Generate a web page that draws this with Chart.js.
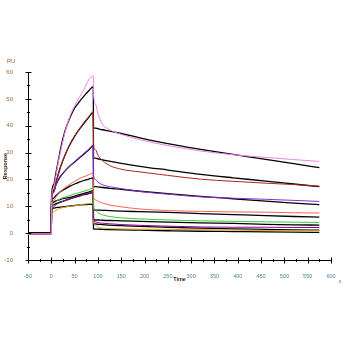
<!DOCTYPE html>
<html>
<head>
<meta charset="utf-8">
<script src="https://cdn.jsdelivr.net/npm/chart.js@4"></script>
<style>
  html, body { margin: 0; padding: 0; background: #fff; }
</style>
</head>
<body>
<canvas id="sensorgram" width="344" height="344"></canvas>
<script>
// ---- time points (s): baseline, association, dissociation ----
const timeBase = [-50, -25, 0];
const timeAssoc = [0.5, 5, 10, 15, 20, 30, 40, 50, 60, 70, 80, 90];
const timeDissoc = [90.5, 95, 100, 110, 125, 150, 190, 250, 320, 390, 460, 520, 575];

// ---- measured responses (RU), highest concentration first ----
const resp1 = [-0.3, -0.3, -0.3, 12, 17, 21.5, 26.5, 30.5, 38, 43.5, 47.5, 50.5, 53.6, 57, 58.6,
  52, 48, 44.5, 40.5, 38.5, 36.8, 34.8, 32.6, 30.6, 29.2, 28.2, 27.4, 26.7];
const resp2 = [-0.3, -0.3, -0.3, 12, 15.5, 18.8, 21.8, 24.6, 29.4, 33.2, 36.2, 38.8, 41.2, 43.3, 45.2,
  33, 31, 29, 27, 25.2, 23.8, 22.8, 21.5, 20.1, 19.3, 18.6, 18.1, 17.5];
const resp3 = [-0.3, -0.3, -0.3, 10, 15, 17.8, 19.6, 21, 23.2, 25, 26.6, 28.2, 29.7, 31.2, 32.8,
  21.5, 20, 19, 18, 17.3, 16.6, 15.5, 14.5, 13.5, 13, 12.6, 12.2, 11.8];
const resp4 = [-0.3, -0.3, -0.3, 9, 12, 13.5, 14.6, 15.5, 17, 18.2, 19.3, 20.3, 21, 21.7, 22.3,
  13.5, 12.4, 11.9, 11.2, 10.5, 9.8, 9.0, 8.4, 8.1, 7.9, 7.8, 7.6, 7.5];
const resp5 = [-0.3, -0.3, -0.3, 8.5, 11, 11.8, 12.4, 12.8, 13.5, 14, 14.6, 15.1, 15.6, 16.2, 16.8,
  9.5, 8.6, 7.6, 6.8, 6.2, 5.7, 5.3, 4.9, 4.6, 4.4, 4.2, 4.1, 4.0];
const resp6 = [-0.3, -0.3, -0.3, 8, 9.8, 10.6, 11.1, 11.5, 12.2, 12.8, 13.4, 13.9, 14.4, 14.9, 15.3,
  5, 4.2, 3.9, 3.7, 3.5, 3.2, 2.9, 2.6, 2.3, 2.2, 2.2, 2.1, 2.1];
const resp7 = [-0.3, -0.3, -0.3, 6, 7.8, 8.5, 9, 9.3, 9.7, 10, 10.3, 10.5, 10.8, 11, 11.2,
  4, 3, 2.2, 1.9, 1.7, 1.6, 1.5, 1.4, 1.3, 1.1, 1.0, 0.9, 0.9];

// ---- fitted curves (RU) ----
const fit1 = [0, 0, 0, 14, 18, 22.5, 27, 31.5, 38.4, 43, 46.5, 48.9, 51, 52.9, 54.5,
  39.2, 39.1, 38.9, 38.5, 38, 37.1, 35.5, 33.3, 31.2, 29.3, 27.5, 25.9, 24.4];
const fit2 = [0, 0, 0, 13, 16, 19, 22, 24.8, 29.3, 33, 36, 38.6, 40.9, 43, 45,
  28, 27.9, 27.7, 27.3, 26.8, 26, 24.9, 23.5, 21.9, 20.6, 19.4, 18.3, 17.3];
const fit3 = [0, 0, 0, 12, 15.5, 18, 19.8, 21.2, 23.3, 25, 26.5, 28, 29.5, 31, 32.5,
  17.4, 17.3, 17.2, 17, 16.7, 16.3, 15.6, 14.7, 13.7, 12.8, 11.9, 11.2, 10.6];
const fit4 = [0, 0, 0, 11, 13, 14, 14.8, 15.5, 16.5, 17.5, 18.3, 19, 19.6, 20.1, 20.6,
  8.7, 8.6, 8.6, 8.5, 8.4, 8.2, 8.0, 7.7, 7.3, 6.9, 6.5, 6.2, 6.0];
const fit5 = [0, 0, 0, 11, 11.6, 12, 12.3, 12.6, 13, 13.3, 13.8, 14.3, 14.8, 15.3, 15.8,
  5.0, 4.9, 4.9, 4.8, 4.7, 4.6, 4.4, 4.1, 3.8, 3.6, 3.3, 3.1, 3.0];
const fit6 = [0, 0, 0, 10, 10.5, 11, 11.3, 11.6, 12.2, 12.8, 13.3, 13.8, 14.3, 14.7, 15.1,
  3.5, 3.4, 3.3, 3.2, 3.0, 2.8, 2.5, 2.2, 1.9, 1.6, 1.4, 1.2, 1.1];
const fit7 = [0, 0, 0, 9, 9.3, 9.5, 9.6, 9.7, 9.9, 10.1, 10.3, 10.5, 10.6, 10.7, 10.8,
  1.6, 1.5, 1.5, 1.4, 1.3, 1.2, 1.1, 0.9, 0.7, 0.6, 0.5, 0.4, 0.3];

const responses = [resp1, resp2, resp3, resp4, resp5, resp6, resp7];
const fits = [fit1, fit2, fit3, fit4, fit5, fit6, fit7];
const curveColors = ['#ee82ee', '#b22222', '#8a2be2', '#ff6347', '#32cd32', '#990099', '#daa520'];

const xTicks = [-50, 0, 50, 100, 150, 200, 250, 300, 350, 400, 450, 500, 550, 600];
const yTicks = [-10, 0, 10, 20, 30, 40, 50, 60];

const allTimes = timeBase.concat(timeAssoc, timeDissoc);
const toPoints = vals => vals.map((v, i) => ({ x: allTimes[i], y: v }));

const datasets = [];
responses.forEach((r, i) => {
    datasets.push({
        data: toPoints(r),
        borderColor: curveColors[i],
        borderWidth: 1,
        pointRadius: 0,
        cubicInterpolationMode: 'monotone',
    });
});
fits.forEach(f => {
    datasets.push({
        data: toPoints(f),
        borderColor: '#000',
        borderWidth: 1.3,
        pointRadius: 0,
        cubicInterpolationMode: 'monotone',
    });
});

// tick marks crossing the axes, with minor ticks half way
const axisTicks = {
    id: 'axisTicks',
    afterDraw(chart) {
        const ctx = chart.ctx;
        const xs = chart.scales.x, ys = chart.scales.y;
        const x0 = Math.round(xs.left) + 0.5;
        const y0 = Math.round(ys.bottom) + 0.5;
        ctx.save();
        ctx.strokeStyle = '#000';
        ctx.lineWidth = 1;
        ctx.beginPath();
        for (let v = -10; v <= 60; v += 5) {
            const py = Math.round(ys.getPixelForValue(v)) + 0.5;
            const len = v % 10 === 0 ? 3 : 1.5;
            ctx.moveTo(x0 - len, py);
            ctx.lineTo(x0 + len, py);
        }
        for (let v = -50; v <= 600; v += 25) {
            const px = Math.round(xs.getPixelForValue(v)) + 0.5;
            const len = v % 50 === 0 ? 3 : 1.5;
            ctx.moveTo(px, y0 - len);
            ctx.lineTo(px, y0 + len);
        }
        ctx.stroke();

        ctx.font = '6px "Liberation Sans"';
        ctx.fillStyle = '#b0703c';
        ctx.textAlign = 'center';
        ctx.textBaseline = 'middle';
        ctx.fillText('RU', 11, 61);
        ctx.fillStyle = '#4f8593';
        ctx.fillText('x', 340, 281);
        ctx.restore();
    }
};

new Chart(document.getElementById('sensorgram'), {
    type: 'line',
    data: { datasets },
    options: {
        responsive: false,
        animation: false,
        layout: { padding: { top: 72, right: 13, bottom: 56, left: 0 } },
        plugins: { legend: { display: false }, tooltip: { enabled: false } },
        scales: {
            x: {
                type: 'linear',
                min: -50, max: 600,
                afterBuildTicks: s => { s.ticks = xTicks.map(v => ({ value: v })); },
                afterFit: s => { s.height = 28; },
                grid: { display: false },
                border: { color: '#000', width: 1 },
                ticks: { color: '#4f8593', font: { size: 5.5, family: 'Liberation Sans' }, padding: 5, maxRotation: 0 },
                title: { display: true, text: 'Time', color: '#3a2a1a', font: { size: 5.5, weight: 'bold', family: 'Liberation Sans' }, padding: { top: 0, bottom: 5 } },
            },
            y: {
                min: -10, max: 60,
                afterBuildTicks: s => { s.ticks = yTicks.map(v => ({ value: v })); },
                afterFit: s => { s.width = 28; },
                grid: { display: false },
                border: { color: '#000', width: 1 },
                ticks: { color: '#9a6a44', font: { size: 6, family: 'Liberation Sans' }, padding: 7 },
                title: { display: true, text: 'Response', color: '#3a2a1a', font: { size: 5.5, weight: 'bold', family: 'Liberation Sans' }, padding: { top: 2, bottom: 0 } },
            },
        },
    },
    plugins: [axisTicks],
});
</script>
</body>
</html>
